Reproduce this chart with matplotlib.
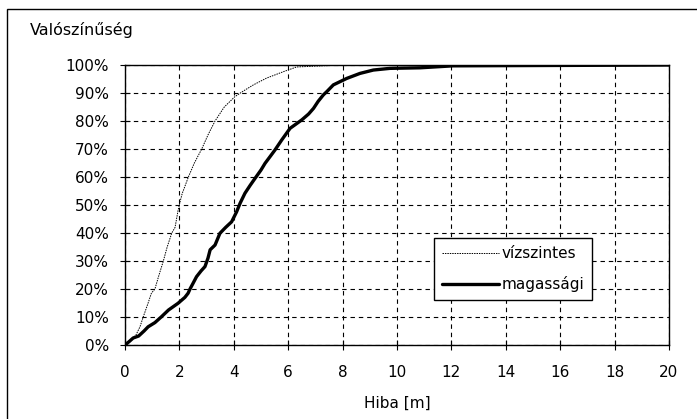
import matplotlib
matplotlib.use("Agg")
import matplotlib.pyplot as plt
from matplotlib.patches import Rectangle

# Data
viz_x = [0, 0.2, 0.4, 0.55, 0.67, 0.85, 0.97, 1.1, 1.25, 1.41, 1.55, 1.72, 1.84, 1.95,
         2.02, 2.1, 2.33, 2.55, 2.82, 3.05, 3.31, 3.65, 4.04, 4.4, 4.72, 5.2, 5.82,
         6.31, 7.0, 7.5, 8.0, 20]
viz_y = [0, 1.5, 3.5, 6.5, 10, 15, 18.5, 20, 25, 30, 35, 40, 42, 48,
         51, 54, 60, 65, 70, 75, 80, 85, 88.7, 91, 92.9, 95.3, 97.6,
         99.3, 99.6, 99.8, 100, 100]

mag_x = [0, 0.15, 0.3, 0.5, 0.7, 0.85, 1.1, 1.33, 1.6, 1.95, 2.2, 2.32, 2.39, 2.5,
         2.63, 2.8, 2.94, 3.05, 3.13, 3.31, 3.49, 3.7, 3.92, 4.1, 4.23, 4.41, 4.6,
         4.78, 5.0, 5.15, 5.35, 5.51, 5.76, 6.07, 6.3, 6.5, 6.75, 6.93, 7.1, 7.29,
         7.42, 7.66, 8.15, 8.64, 9.13, 9.74, 10.85, 12.06, 20]
mag_y = [0, 1.2, 2.5, 3.2, 5, 6.5, 8, 10, 12.5, 14.9, 17, 18.5, 20, 22,
         24.4, 26.5, 28, 31, 34, 35.7, 39.9, 42, 44, 47.5, 50.6, 54.2, 57,
         59.5, 62.5, 64.9, 67.5, 69.6, 73.2, 77.4, 79, 80.4, 82.5, 84.5, 87, 89.3,
         90.5, 92.9, 95.2, 97, 98.2, 98.8, 99.0, 99.7, 100]

x_ticks = list(range(0, 21, 2))
y_ticks = list(range(0, 101, 10))
y_labels = [f"{v}%" for v in y_ticks]
series_names = ["vízszintes", "magassági"]

W, H = 697, 419
FS = 11
plt.rcParams['font.family'] = ['DejaVu Sans']
fig = plt.figure(figsize=(W / 100, H / 100), dpi=100)
fig.patch.set_facecolor("white")

# outer frame (cropped on right/bottom in the reference)
fig.patches.append(Rectangle((7 / W, -0.2), 1.5, 1.2 - 9 / H, transform=fig.transFigure,
                             fill=False, edgecolor="black", linewidth=1.0))

ax = fig.add_axes([125 / W, 1 - 345 / H, (669 - 125) / W, (345 - 65) / H])
ax.set_xlim(0, 20)
ax.set_ylim(0, 100)

ax.plot(viz_x, viz_y, color="black", linewidth=0.7, linestyle=(0, (1.5, 1)),
        label=series_names[0], zorder=3)
ax.plot(mag_x, mag_y, color="black", linewidth=2.4, label=series_names[1],
        solid_joinstyle="round", solid_capstyle="round", zorder=4)

ax.set_xticks(x_ticks)
ax.set_xticklabels([str(v) for v in x_ticks])
ax.set_yticks(y_ticks)
ax.set_yticklabels(y_labels)
ax.tick_params(direction="inout", length=7, width=0.8, labelsize=FS, colors="black")
ax.tick_params(axis="y", pad=8)
ax.tick_params(axis="x", pad=11)
ax.grid(True, color="black", linestyle=(0, (4, 3.5)), linewidth=0.8)
ax.set_axisbelow(True)
for s in ax.spines.values():
    s.set_linewidth(1.0)
    s.set_color("black")

ax.set_xlabel("Hiba [m]", fontsize=FS, labelpad=11)
fig.text(30 / W, 1 - 30 / H, "Valószínűség", fontsize=11.5, ha="left", va="center")

leg = ax.legend(loc="upper left", bbox_to_anchor=(434 / W, 1 - 238 / H),
                bbox_transform=fig.transFigure, borderaxespad=0, frameon=True,
                fancybox=False, fontsize=FS, handlelength=3.7, handletextpad=0.15,
                borderpad=0.55, labelspacing=0.95)
leg.get_frame().set_edgecolor("black")
leg.get_frame().set_linewidth(1.0)
leg.get_frame().set_alpha(1.0)

fig.savefig("out.png", dpi=100)
